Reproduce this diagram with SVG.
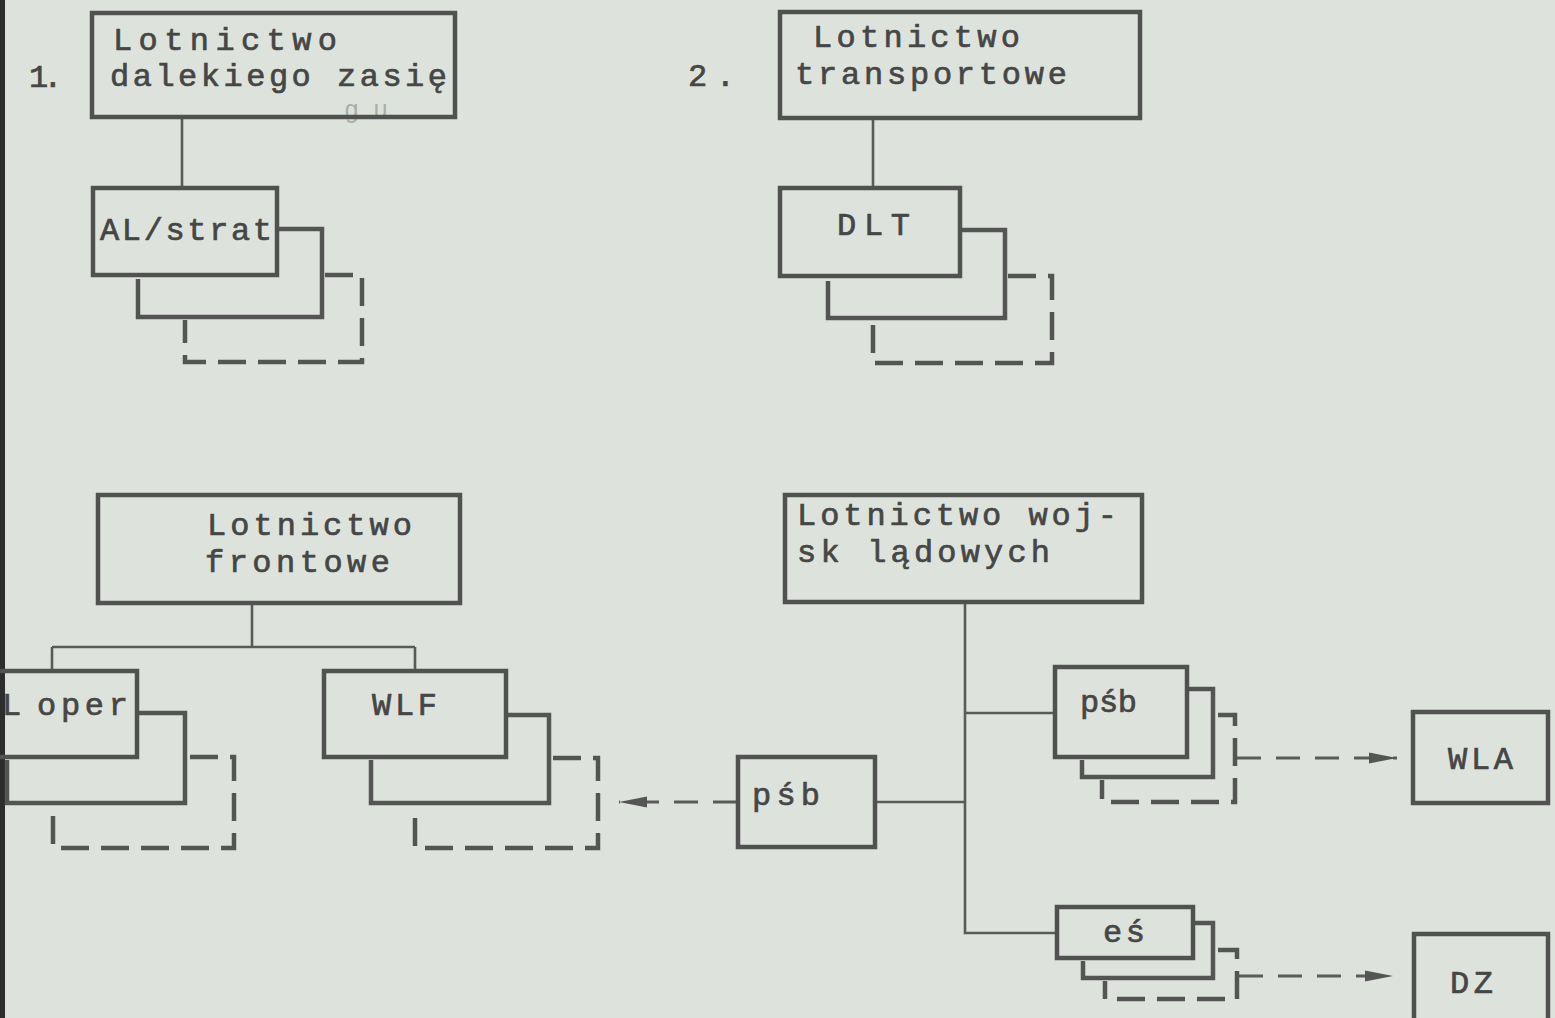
<svg xmlns="http://www.w3.org/2000/svg" width="1555" height="1018" viewBox="0 0 1555 1018">
<defs>
<style>
.bg{fill:#dde3dc}
.box{fill:none;stroke:#515151;stroke-width:4.5}
.sh{fill:none;stroke:#545454;stroke-width:4.5;stroke-linejoin:miter}
.dash{fill:none;stroke:#545454;stroke-width:4.5;stroke-dasharray:28 12}
.con{fill:none;stroke:#5a5a5a;stroke-width:2.6}
.arr{fill:none;stroke:#5a5a5a;stroke-width:3.2;stroke-dasharray:24 15}
.t{font-family:"Liberation Mono","Courier New",monospace;font-size:32px;fill:#464646;stroke:#464646;stroke-width:0.7}
.faint{font-family:"Liberation Mono","Courier New",monospace;font-size:25px;fill:#aaaea7}
</style>
<marker id="ah" markerUnits="userSpaceOnUse" markerWidth="30" markerHeight="14" refX="28" refY="7" orient="auto">
<path d="M0,1.5 L28,7 L0,12.5 Z" fill="#555"/>
</marker>
</defs>
<rect class="bg" x="0" y="0" width="1555" height="1018"/>
<rect x="0" y="0" width="5" height="1018" fill="#2d2d2d"/>

<g id="connectors">
<path class="con" d="M182,117 V188"/>
<path class="con" d="M873,118 V188"/>
<path class="con" d="M252,603 V647"/>
<path class="con" d="M52,647 H415"/>
<path class="con" d="M52,647 V671"/>
<path class="con" d="M415,647 V671"/>
<path class="con" d="M965,602 V933 H1057"/>
<path class="con" d="M965,713 H1055"/>
<path class="con" d="M875,802 H965"/>
<path class="arr" d="M737,802 H619" marker-end="url(#ah)"/>
<path class="arr" d="M1237,758 H1397" marker-end="url(#ah)"/>
<path class="arr" d="M1239,976 H1393" marker-end="url(#ah)"/>
</g>

<g id="label-1">
<text class="t" x="29" y="87" letter-spacing="-5">1.</text>
</g>
<g id="label-2">
<text class="t" x="688" y="86" textLength="47">2.</text>
</g>

<g id="lotnictwo-dalekiego-zasiegu">
<text class="faint" x="344" y="118" textLength="44">gu</text>
<rect class="box" x="92" y="13" width="363" height="104"/>
<text class="t" x="113" y="50" textLength="224">Lotnictwo</text>
<text class="t" x="110" y="86" textLength="337">dalekiego zasię</text>
</g>

<g id="al-strat">
<path class="dash" d="M325,275 H362 V362 H185 V320"/>
<path class="sh" d="M277,229 H322 V317 H138 V279"/>
<rect class="box" x="93" y="188" width="184" height="87"/>
<text class="t" x="100" y="240" textLength="172">AL/strat</text>
</g>

<g id="lotnictwo-transportowe">
<rect class="box" x="780" y="12" width="360" height="106"/>
<text class="t" x="813" y="47" textLength="207">Lotnictwo</text>
<text class="t" x="795" y="84" textLength="272">transportowe</text>
</g>

<g id="dlt">
<path class="dash" d="M1008,276 H1052 V363 H873 V321"/>
<path class="sh" d="M960,230 H1005 V318 H828 V281"/>
<rect class="box" x="780" y="188" width="180" height="88"/>
<text class="t" x="837" y="235" textLength="73">DLT</text>
</g>

<g id="lotnictwo-frontowe">
<rect class="box" x="98" y="495" width="362" height="108"/>
<text class="t" x="207" y="535" textLength="205">Lotnictwo</text>
<text class="t" x="205" y="572" textLength="185">frontowe</text>
</g>

<g id="oper">
<path class="dash" d="M190,757 H234 V848 H53 V806"/>
<path class="sh" d="M137,713 H185 V803 H7 V760"/>
<rect class="box" x="-10" y="671" width="147" height="86"/>
<text class="t" x="2" y="715">L</text>
<text class="t" x="37" y="715" textLength="91">oper</text>
</g>

<g id="wlf">
<path class="dash" d="M553,758 H598 V848 H415 V806"/>
<path class="sh" d="M506,715 H549 V803 H371 V760"/>
<rect class="box" x="324" y="671" width="182" height="86"/>
<text class="t" x="372" y="715" textLength="65">WLF</text>
</g>

<g id="lotnictwo-wojsk-ladowych">
<rect class="box" x="785" y="495" width="357" height="107"/>
<text class="t" x="797" y="525" textLength="320">Lotnictwo woj-</text>
<text class="t" x="797" y="562" textLength="253">sk lądowych</text>
</g>

<g id="psb-left">
<rect class="box" x="738" y="757" width="137" height="90"/>
<text class="t" x="752" y="805" textLength="68">pśb</text>
</g>

<g id="psb-right">
<path class="dash" d="M1218,715 H1235 V802 H1102 V780"/>
<path class="sh" d="M1187,689 H1213 V777 H1082 V760"/>
<rect class="box" x="1055" y="667" width="132" height="90"/>
<text class="t" x="1080" y="712" textLength="57">pśb</text>
</g>

<g id="es">
<path class="dash" d="M1218,950 H1237 V999 H1105 V981"/>
<path class="sh" d="M1193,923 H1213 V978 H1083 V961"/>
<rect class="box" x="1057" y="907" width="136" height="51"/>
<text class="t" x="1103" y="942" textLength="42">eś</text>
</g>

<g id="wla">
<rect class="box" x="1413" y="712" width="135" height="91"/>
<text class="t" x="1448" y="769" textLength="65">WLA</text>
</g>

<g id="dz">
<rect class="box" x="1414" y="934" width="134" height="100"/>
<text class="t" x="1450" y="993" textLength="43">DZ</text>
</g>
</svg>
